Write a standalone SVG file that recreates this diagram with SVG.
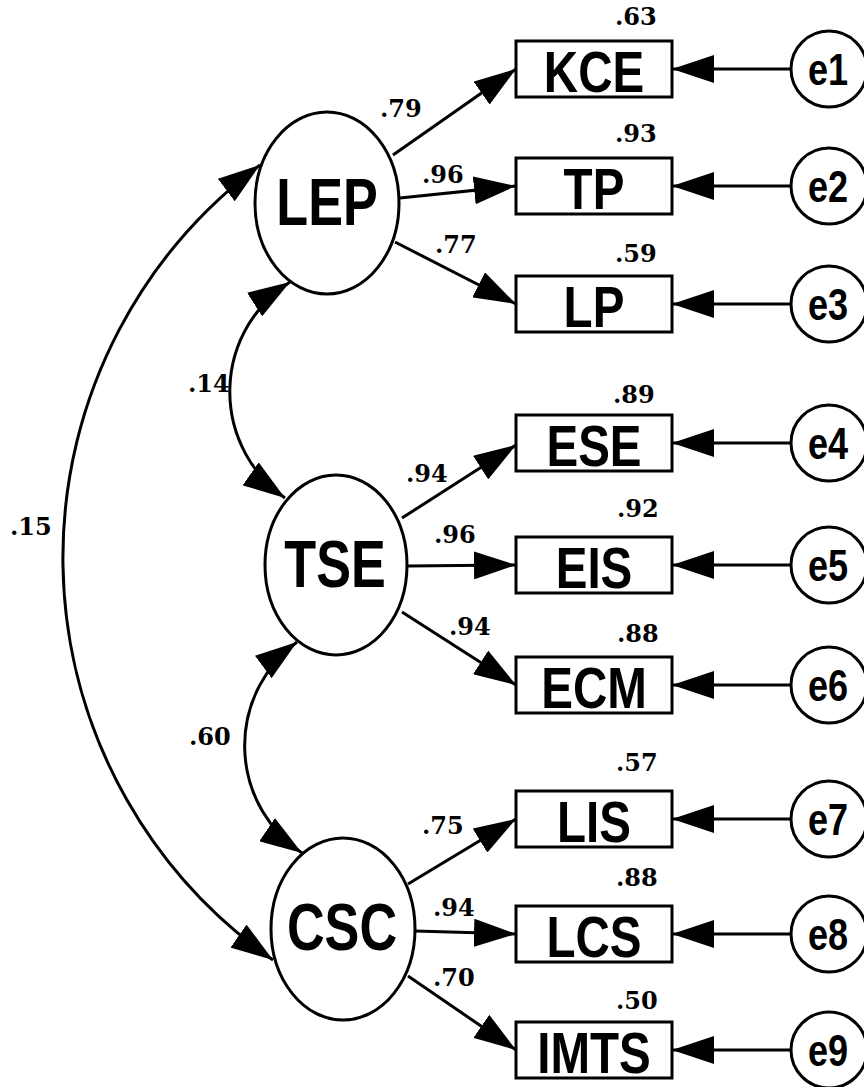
<svg xmlns="http://www.w3.org/2000/svg" width="864" height="1087" viewBox="0 0 864 1087">
<style>
.bg{fill:#fff}
.lat{fill:#fff;stroke:#000;stroke-width:3}
.box{fill:#fff;stroke:#000;stroke-width:3}
.err{fill:#fff;stroke:#000;stroke-width:3}
.con{fill:none;stroke:#000;stroke-width:3}
.lbl{font-family:"Liberation Sans",Arial,sans-serif;font-weight:bold;text-anchor:middle;fill:#000}
.big{font-size:66px}
.obs{font-size:58px}
.el{font-size:44px}
.num{font-family:"DejaVu Serif","Liberation Serif",serif;font-weight:bold;font-size:24px;fill:#000}
</style>
<defs>
<marker id="ah" markerUnits="userSpaceOnUse" markerWidth="44" markerHeight="28" refX="42" refY="14" orient="auto-start-reverse" viewBox="0 0 44 28">
<path d="M0,0 L42,14 L0,28 z" fill="#000"/>
</marker>
</defs>
<rect class="bg" x="0" y="0" width="864" height="1087"/>
<g id="connectors">
<path class="con" d="M393,155 L516,69" marker-end="url(#ah)"/>
<path class="con" d="M400,198 L516,186" marker-end="url(#ah)"/>
<path class="con" d="M395,242 L516,304" marker-end="url(#ah)"/>
<path class="con" d="M402,518 L516,445" marker-end="url(#ah)"/>
<path class="con" d="M408,566 L516,565" marker-end="url(#ah)"/>
<path class="con" d="M402,612 L516,685" marker-end="url(#ah)"/>
<path class="con" d="M408,884 L516,819" marker-end="url(#ah)"/>
<path class="con" d="M415,931 L516,934" marker-end="url(#ah)"/>
<path class="con" d="M408,976 L516,1050" marker-end="url(#ah)"/>
<path class="con" d="M791,69 L672,69" marker-end="url(#ah)"/>
<path class="con" d="M791,186 L672,186" marker-end="url(#ah)"/>
<path class="con" d="M791,304 L672,304" marker-end="url(#ah)"/>
<path class="con" d="M791,443 L672,443" marker-end="url(#ah)"/>
<path class="con" d="M791,565 L672,565" marker-end="url(#ah)"/>
<path class="con" d="M791,685 L672,685" marker-end="url(#ah)"/>
<path class="con" d="M791,819 L672,819" marker-end="url(#ah)"/>
<path class="con" d="M791,934 L672,934" marker-end="url(#ah)"/>
<path class="con" d="M791,1050 L672,1050" marker-end="url(#ah)"/>
<path class="con" d="M260,165 A490,490 0 0 0 273,960" marker-start="url(#ah)" marker-end="url(#ah)"/>
<path class="con" d="M290,282 A130,130 0 0 0 285,498" marker-start="url(#ah)" marker-end="url(#ah)"/>
<path class="con" d="M297,642 A129,129 0 0 0 302,853" marker-start="url(#ah)" marker-end="url(#ah)"/>
<text class="num" x="380" y="117">.79</text>
<text class="num" x="422" y="183">.96</text>
<text class="num" x="435" y="253">.77</text>
<text class="num" x="406" y="482">.94</text>
<text class="num" x="434" y="543">.96</text>
<text class="num" x="449" y="635">.94</text>
<text class="num" x="422" y="834">.75</text>
<text class="num" x="433" y="916">.94</text>
<text class="num" x="433" y="986">.70</text>
<text class="num" x="188" y="392">.14</text>
<text class="num" x="189" y="745">.60</text>
<text class="num" x="10" y="535">.15</text>
</g>
<g id="LEP">
<ellipse class="lat" cx="327" cy="203" rx="72" ry="91"/>
<text class="lbl big" transform="translate(327,225) scale(0.79,1)">LEP</text>
</g>
<g id="TSE">
<ellipse class="lat" cx="336" cy="565" rx="71" ry="90"/>
<text class="lbl big" transform="translate(335,587) scale(0.79,1)">TSE</text>
</g>
<g id="CSC">
<ellipse class="lat" cx="343" cy="929" rx="72" ry="91"/>
<text class="lbl big" transform="translate(342,950) scale(0.79,1)">CSC</text>
</g>
<g id="KCE">
<rect class="box" x="516" y="41" width="156" height="56"/>
<text class="lbl obs" transform="translate(594,92) scale(0.82,1)">KCE</text>
<text class="num" x="615" y="25">.63</text>
</g>
<g id="TP">
<rect class="box" x="516" y="158" width="156" height="56"/>
<text class="lbl obs" transform="translate(594,209) scale(0.82,1)">TP</text>
<text class="num" x="615" y="142">.93</text>
</g>
<g id="LP">
<rect class="box" x="516" y="276" width="156" height="56"/>
<text class="lbl obs" transform="translate(594,327) scale(0.82,1)">LP</text>
<text class="num" x="615" y="262">.59</text>
</g>
<g id="ESE">
<rect class="box" x="516" y="415" width="156" height="56"/>
<text class="lbl obs" transform="translate(594,466) scale(0.82,1)">ESE</text>
<text class="num" x="613" y="403">.89</text>
</g>
<g id="EIS">
<rect class="box" x="516" y="537" width="156" height="56"/>
<text class="lbl obs" transform="translate(594,588) scale(0.82,1)">EIS</text>
<text class="num" x="617" y="517">.92</text>
</g>
<g id="ECM">
<rect class="box" x="516" y="657" width="156" height="56"/>
<text class="lbl obs" transform="translate(594,708) scale(0.82,1)">ECM</text>
<text class="num" x="617" y="642">.88</text>
</g>
<g id="LIS">
<rect class="box" x="516" y="791" width="156" height="56"/>
<text class="lbl obs" transform="translate(594,842) scale(0.82,1)">LIS</text>
<text class="num" x="616" y="771">.57</text>
</g>
<g id="LCS">
<rect class="box" x="516" y="906" width="156" height="56"/>
<text class="lbl obs" transform="translate(594,957) scale(0.82,1)">LCS</text>
<text class="num" x="616" y="886">.88</text>
</g>
<g id="IMTS">
<rect class="box" x="516" y="1022" width="156" height="56"/>
<text class="lbl obs" transform="translate(594,1073) scale(0.82,1)">IMTS</text>
<text class="num" x="616" y="1009">.50</text>
</g>
<g id="e1"><circle class="err" cx="829" cy="69" r="38"/><text class="lbl el" transform="translate(828,85) scale(0.82,1)">e1</text></g>
<g id="e2"><circle class="err" cx="829" cy="186" r="38"/><text class="lbl el" transform="translate(828,202) scale(0.82,1)">e2</text></g>
<g id="e3"><circle class="err" cx="829" cy="304" r="38"/><text class="lbl el" transform="translate(828,320) scale(0.82,1)">e3</text></g>
<g id="e4"><circle class="err" cx="829" cy="443" r="38"/><text class="lbl el" transform="translate(828,459) scale(0.82,1)">e4</text></g>
<g id="e5"><circle class="err" cx="829" cy="565" r="38"/><text class="lbl el" transform="translate(828,581) scale(0.82,1)">e5</text></g>
<g id="e6"><circle class="err" cx="829" cy="685" r="38"/><text class="lbl el" transform="translate(828,701) scale(0.82,1)">e6</text></g>
<g id="e7"><circle class="err" cx="829" cy="819" r="38"/><text class="lbl el" transform="translate(828,835) scale(0.82,1)">e7</text></g>
<g id="e8"><circle class="err" cx="829" cy="934" r="38"/><text class="lbl el" transform="translate(828,950) scale(0.82,1)">e8</text></g>
<g id="e9"><circle class="err" cx="829" cy="1050" r="38"/><text class="lbl el" transform="translate(828,1066) scale(0.82,1)">e9</text></g>
</svg>
